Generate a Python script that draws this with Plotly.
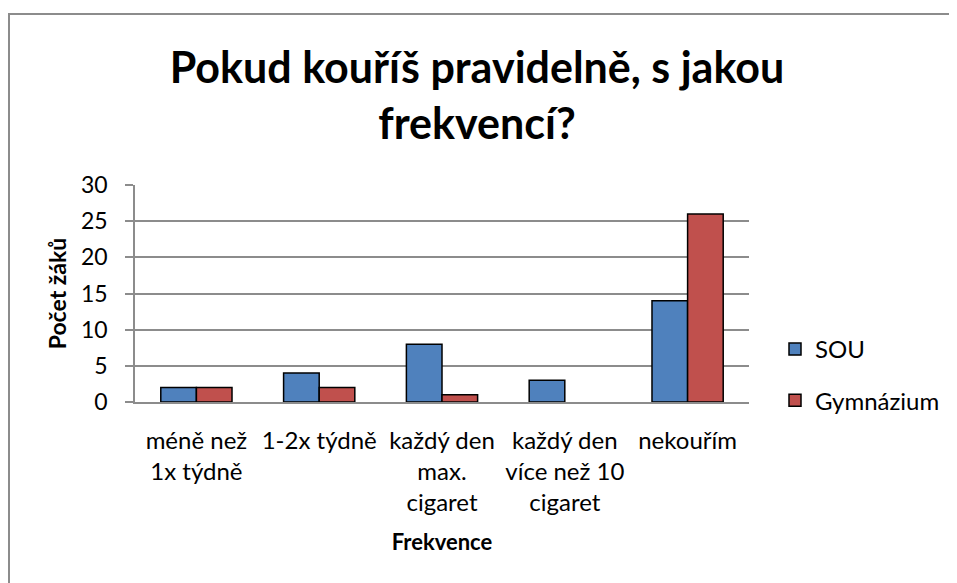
import plotly.graph_objects as go

categories = ["méně než<br>1x týdně", "1-2x týdně", "každý den<br>max.<br>cigaret",
              "každý den<br>více než 10<br>cigaret", "nekouřím"]
sou = [2, 4, 8, 3, 14]
gymnazium = [2, 2, 1, 0, 26]
y_ticks = [0, 5, 10, 15, 20, 25, 30]

title_text = "Pokud kouříš pravidelně, s jakou<br>frekvencí?"
font_family = "Lato, Carlito, Calibri, sans-serif"

# the page body has an 8px margin, so figure pixels = page pixels - 8
W, H = 949, 575
L, R, T, B = 127, 741, 177, 394

fig = go.Figure()
fig.add_trace(go.Bar(x=categories, y=[v if v else None for v in sou], name="SOU",
                     legendgroup="a",
                     marker=dict(color="#4F81BD", line=dict(color="black", width=1.5))))
fig.add_trace(go.Bar(x=categories, y=[v if v else None for v in gymnazium], name="Gymnázium",
                     legendgroup="b",
                     marker=dict(color="#C0504D", line=dict(color="black", width=1.5))))

def px_x(px):
    return (px - L) / (R - L)

def px_y(py):
    return (B - py) / (B - T)

fig.update_layout(
    width=W, height=H,
    margin=dict(l=L, r=W - R, t=T, b=H - B, pad=0),
    paper_bgcolor="white", plot_bgcolor="white",
    font=dict(family=font_family, size=23, color="black"),
    title=dict(text=title_text, x=px_x(469), xref="paper", xanchor="center",
               y=1 - 75 / H, yanchor="middle",
               font=dict(family=font_family, size=43, color="black", weight="bold")),
    bargap=0.42, bargroupgap=0,
    barmode="group",
    showlegend=True,
    legend=dict(x=px_x(767), xanchor="left", y=px_y(319), yanchor="top",
                font=dict(size=24), traceorder="grouped", tracegroupgap=17,
                bgcolor="rgba(0,0,0,0)", itemwidth=30),
    xaxis=dict(showline=True, linecolor="#8c8c8c", linewidth=1.5, ticks="",
               showgrid=False, ticklabelstandoff=16, tickfont=dict(size=24),
               title=dict(text="<b>Frekvence</b>", font=dict(size=22), standoff=20)),
    yaxis=dict(range=[0, 30], tickvals=y_ticks, showline=True, linecolor="#8c8c8c",
               linewidth=1.5, ticks="outside", ticklen=8, tickcolor="#8c8c8c",
               tickwidth=1.5, showgrid=True, gridcolor="#8c8c8c", gridwidth=1.5,
               zeroline=False, tickfont=dict(size=23), ticklabelstandoff=13,
               title=dict(text="<b>Počet žáků</b>", font=dict(size=23), standoff=8)),
    shapes=[
        dict(type="line", xref="paper", yref="paper", x0=px_x(0), x1=px_x(960),
             y0=px_y(6), y1=px_y(6), line=dict(color="#8c8c8c", width=2)),
        dict(type="line", xref="paper", yref="paper", x0=px_x(1), x1=px_x(1),
             y0=px_y(6), y1=px_y(600), line=dict(color="#8c8c8c", width=2)),
    ],
)

fig.write_html("out.html")
